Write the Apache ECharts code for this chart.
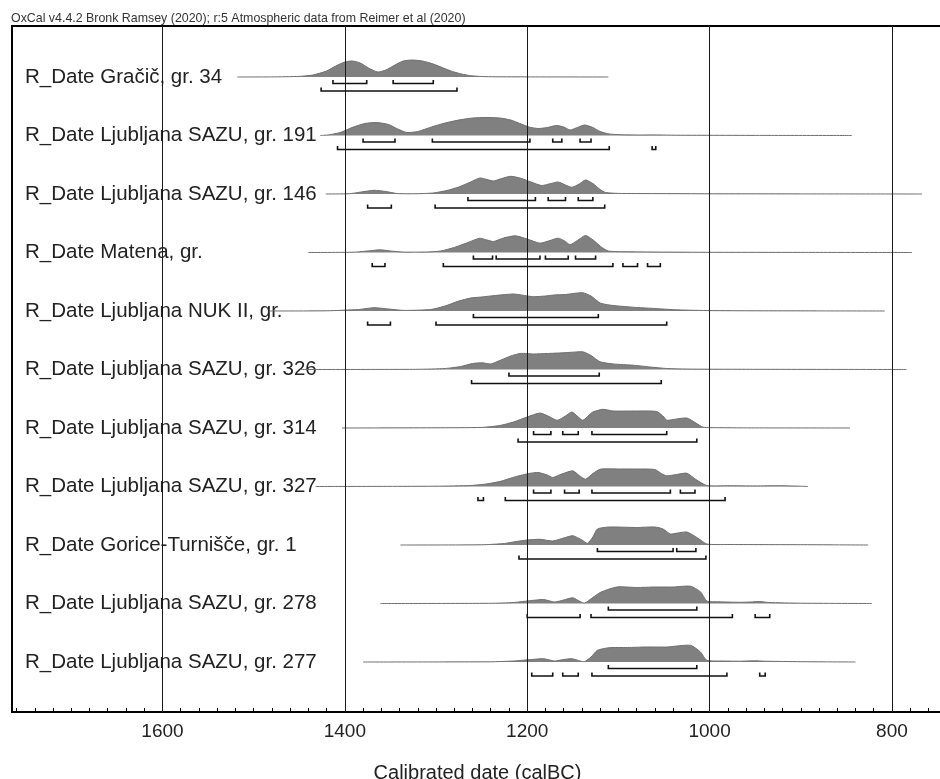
<!DOCTYPE html>
<html>
<head>
<meta charset="utf-8">
<title>OxCal multiplot</title>
<script src="https://cdn.jsdelivr.net/npm/echarts@6/dist/echarts.min.js"></script>
<style>
  html, body { margin: 0; padding: 0; background: #fff; }
  #chart { width: 940px; height: 779px; }
</style>
</head>
<body>
<div id="chart"></div>
<script>
// row names, top to bottom
const labels = [
  'R_Date Gračič, gr. 34',
  'R_Date Ljubljana SAZU, gr. 191',
  'R_Date Ljubljana SAZU, gr. 146',
  'R_Date Matena, gr.',
  'R_Date Ljubljana NUK II, gr.',
  'R_Date Ljubljana SAZU, gr. 326',
  'R_Date Ljubljana SAZU, gr. 314',
  'R_Date Ljubljana SAZU, gr. 327',
  'R_Date Gorice-Turnišče, gr. 1',
  'R_Date Ljubljana SAZU, gr. 278',
  'R_Date Ljubljana SAZU, gr. 277'
]

// calibrated probability, [year BC, relative probability]
const probGracic34 = [[1518,0],[1480,0.1],[1450,0.6],[1435,2],[1420,6],[1410,11],[1400,15],[1392,16],[1383,14],[1374,9],[1364,5],[1355,7],[1345,12],[1336,16],[1326,17],[1315,16],[1303,13],[1292,9],[1282,5.5],[1272,3],[1262,1.3],[1250,0.5],[1235,0.2],[1200,0.1],[1111,0]]
const probSazu191 = [[1427,0],[1418,0.6],[1405,3],[1392,8],[1378,12],[1365,13],[1352,11],[1342,6.5],[1332,3],[1320,4],[1305,8.5],[1290,12.5],[1275,15.5],[1260,17.5],[1245,18],[1230,17.5],[1218,15.5],[1208,12],[1198,8.5],[1188,7],[1178,8],[1168,10],[1160,8.5],[1153,5.5],[1145,8],[1137,10.5],[1128,8],[1120,4],[1110,1.5],[1095,0.7],[1075,0.5],[1060,0.6],[1040,0.3],[1000,0.2],[950,0.1],[844,0]]
const probSazu146 = [[1421,0],[1395,0.3],[1382,2],[1368,3.7],[1355,2.5],[1342,0.4],[1320,0.3],[1303,1],[1288,3.5],[1275,7],[1262,12],[1252,16],[1244,14.5],[1237,13],[1228,15.5],[1218,17.7],[1206,15.5],[1196,12],[1184,8.5],[1174,10.5],[1166,12],[1158,9],[1151,6.7],[1143,10],[1136,14],[1128,10.5],[1120,4.5],[1114,1.5],[1100,0.6],[1060,0.4],[1000,0.2],[900,0.1],[767,0]]
const probMatena = [[1440,0],[1390,0.3],[1372,1.8],[1361,2.7],[1350,1.5],[1335,0.4],[1310,0.5],[1295,1.5],[1280,5],[1265,10],[1252,14.3],[1244,12.5],[1237,11],[1226,14.5],[1213,16.7],[1200,13.5],[1186,9.3],[1175,12],[1166,14.3],[1158,11],[1153,7.7],[1145,12],[1136,17],[1127,12],[1118,5],[1111,1.5],[1095,0.8],[1070,0.6],[1050,0.4],[1000,0.2],[900,0.1],[778,0]]
const probNuk2 = [[1482,0],[1420,0.2],[1385,1.5],[1368,3.3],[1352,2],[1335,0.6],[1306,1.5],[1290,5],[1275,10],[1262,13],[1250,14],[1235,15.5],[1215,17],[1203,15.5],[1193,14.3],[1180,15],[1171,16],[1158,16.5],[1145,18],[1139,18.3],[1130,15],[1120,8],[1110,6],[1100,5],[1080,3.5],[1060,2.5],[1047,1.7],[1030,1],[1000,0.4],[950,0.2],[880,0.1],[808,0]]
const probSazu326 = [[1449,0],[1320,0.2],[1290,1],[1273,3],[1260,6],[1249,6.7],[1240,5.5],[1230,9],[1218,13.5],[1208,16],[1200,16],[1193,15.5],[1178,16],[1161,16.7],[1150,17.3],[1139,17.7],[1130,14],[1120,7.7],[1105,5.5],[1084,4.3],[1065,2.5],[1047,1],[1020,0.4],[950,0.2],[784,0]]
const probSazu314 = [[1403,0],[1300,0.2],[1250,0.6],[1230,2.5],[1215,6],[1200,11],[1186,15],[1175,11],[1167,7.7],[1158,12],[1151,16],[1144,11],[1139,7.7],[1132,13],[1128,16],[1117,18.7],[1106,17],[1080,17],[1058,16.5],[1050,11],[1047,7.7],[1040,8.5],[1025,10],[1015,5],[1007,0.8],[990,0.3],[950,0.1],[846,0]]
const probSazu327 = [[1432,0],[1300,0.3],[1262,1],[1245,2.5],[1230,5],[1212,10],[1198,13],[1188,14],[1178,11.5],[1172,9],[1162,12.5],[1150,15.7],[1143,11],[1136,7.3],[1128,13],[1120,17.3],[1100,17.5],[1080,17.5],[1060,17],[1053,13],[1047,10.7],[1036,12],[1025,13.3],[1015,7],[1003,1],[980,0.8],[950,0.6],[923,0.8],[900,0.3],[892,0]]
const probGorice1 = [[1339,0],[1250,0.2],[1225,1.5],[1212,3.5],[1200,5],[1186,5.7],[1172,4],[1160,7],[1150,9.3],[1140,5],[1134,1.7],[1128,8],[1123,16],[1110,18],[1080,17.5],[1060,18],[1051,16],[1043,11],[1035,12],[1025,13],[1013,7],[1003,1],[980,0.5],[900,0.3],[826,0]]
const probSazu278 = [[1361,0],[1240,0.2],[1215,1],[1195,3],[1182,4],[1170,1.5],[1160,3.5],[1150,5.7],[1142,2],[1137,0.4],[1128,6],[1120,11],[1110,14.5],[1100,16.7],[1080,16],[1060,16.5],[1040,16.5],[1021,17.3],[1010,11.7],[1003,2.5],[990,1.7],[967,1.2],[955,1.5],[945,2],[935,1],[900,0.3],[822,0]]
const probSazu277 = [[1380,0],[1240,0.2],[1215,1],[1195,2.5],[1182,3.3],[1170,1],[1160,2.5],[1151,3.3],[1142,1],[1137,0.4],[1130,5],[1123,11.7],[1110,14.3],[1090,14.5],[1070,15],[1047,15],[1021,16.7],[1010,10],[1003,1.7],[985,1],[967,0.8],[950,1.2],[940,0.8],[900,0.3],[840,0]]

const probs = [probGracic34, probSazu191, probSazu146, probMatena, probNuk2, probSazu326,
  probSazu314, probSazu327, probGorice1, probSazu278, probSazu277]

// 68.2% ranges [from, to] per row
const ranges68 = [
  [[1413,1376],[1347,1303]],
  [[1380,1345],[1304,1197],[1172,1162],[1142,1130]],
  [[1265,1191],[1177,1158],[1144,1128]],
  [[1259,1238],[1234,1186],[1180,1155],[1147,1125]],
  [[1259,1122]],
  [[1220,1121]],
  [[1193,1174],[1161,1144],[1129,1047]],
  [[1193,1174],[1159,1143],[1129,1043],[1032,1016]],
  [[1123,1040],[1036,1015]],
  [[1111,1014]],
  [[1111,1014]]
]
// 95.4% ranges
const ranges95 = [
  [[1426,1277]],
  [[1408,1110],[1063,1059]],
  [[1375,1349],[1301,1115]],
  [[1370,1356],[1292,1106],[1095,1079],[1068,1054]],
  [[1375,1350],[1300,1047]],
  [[1261,1053]],
  [[1210,1014]],
  [[1254,1248],[1224,983]],
  [[1209,1004]],
  [[1200,1142],[1130,975],[950,934]],
  [[1195,1172],[1161,1144],[1129,981],[945,939]]
]

const labelYears = [800, 1000, 1200, 1400, 1600]
const minorTicks = []
for (let y = 760; y <= 1760; y += 20) minorTicks.push(y)

const xMin = 744
const xMax = 1765
const font = 'Liberation Sans, Arial, sans-serif'

let rangeData = []
ranges68.forEach((rs, row) => rs.forEach(r => rangeData.push([row, 1, r[0], r[1]])))
ranges95.forEach((rs, row) => rs.forEach(r => rangeData.push([row, 2, r[0], r[1]])))

let myChart = echarts.init(document.getElementById('chart'))

let option = {
  animation: false,
  title: {
    text: 'OxCal v4.4.2 Bronk Ramsey (2020); r:5 Atmospheric data from Reimer et al (2020)',
    left: 11,
    top: 13,
    padding: 0,
    textStyle: { fontSize: 12.4, fontWeight: 'normal', color: '#333', fontFamily: font }
  },
  // right edge of the frame sits just past the window
  grid: [
    { left: 12, top: 26, right: -3, bottom: 67, outerBoundsMode: 'none', containLabel: false,
      show: true, borderColor: '#000', borderWidth: 2, backgroundColor: 'transparent' },
    { left: 12, top: 47.75, right: -3, bottom: 87.75, outerBoundsMode: 'none', containLabel: false }
  ],
  xAxis: [
    {
      gridIndex: 0,
      type: 'value',
      min: xMin,
      max: xMax,
      inverse: true,
      axisLine: { show: true, lineStyle: { color: '#000', width: 2 } },
      axisTick: { show: true, inside: true, length: 4, customValues: minorTicks, lineStyle: { color: '#000', width: 1 } },
      axisLabel: {
        customValues: labelYears,
        formatter: v => String(v),
        fontSize: 19,
        color: '#222',
        margin: 10,
        fontFamily: font
      },
      splitLine: { show: false },
      name: 'Calibrated date (calBC)',
      nameLocation: 'middle',
      nameGap: 51,
      nameTextStyle: { fontSize: 20, color: '#222', fontFamily: font }
    },
    { gridIndex: 1, type: 'value', min: xMin, max: xMax, inverse: true, show: false }
  ],
  yAxis: [
    { gridIndex: 0, type: 'value', min: 0, max: 1, show: false },
    {
      gridIndex: 1,
      type: 'category',
      data: labels,
      inverse: true,
      axisLine: { show: false },
      axisTick: { show: false },
      splitLine: { show: false },
      axisLabel: { inside: true, margin: 13, fontSize: 20.5, color: '#222', fontFamily: font }
    }
  ],
  series: [
    {
      // vertical grid lines at the labelled years
      type: 'line',
      xAxisIndex: 0,
      yAxisIndex: 0,
      data: [[xMin, 0]],
      symbol: 'none',
      lineStyle: { width: 0 },
      silent: true,
      markLine: {
        silent: true,
        symbol: 'none',
        label: { show: false },
        lineStyle: { color: '#1a1a1a', width: 1, type: 'solid' },
        data: labelYears.map(v => ({ xAxis: v }))
      }
    },
    {
      type: 'custom',
      xAxisIndex: 1,
      yAxisIndex: 1,
      silent: true,
      data: probs.map((p, i) => [i]),
      renderItem: function (params, api) {
        let row = api.value(0)
        let pts = probs[row].map(p => {
          let c = api.coord([p[0], row])
          return [c[0], c[1] - p[1]]
        })
        return {
          type: 'group',
          children: [
            { type: 'polygon', shape: { points: pts, smooth: 0.2 }, style: { fill: '#808080', stroke: null } },
            { type: 'polyline', shape: { points: pts, smooth: 0.2 }, style: { fill: null, stroke: '#6e6e6e', lineWidth: 1 } }
          ]
        }
      }
    },
    {
      type: 'custom',
      xAxisIndex: 1,
      yAxisIndex: 1,
      silent: true,
      data: rangeData,
      renderItem: function (params, api) {
        let row = api.value(0)
        let level = api.value(1)
        let a = api.coord([api.value(2), row])
        let b = api.coord([api.value(3), row])
        let y = a[1] + (level === 1 ? 6.5 : 14)
        return {
          type: 'polyline',
          shape: { points: [[a[0], y - 3.5], [a[0], y], [b[0], y], [b[0], y - 3.5]] },
          style: { fill: null, stroke: '#111', lineWidth: 1.6 }
        }
      }
    }
  ]
}

myChart.setOption(option)
</script>
</body>
</html>
